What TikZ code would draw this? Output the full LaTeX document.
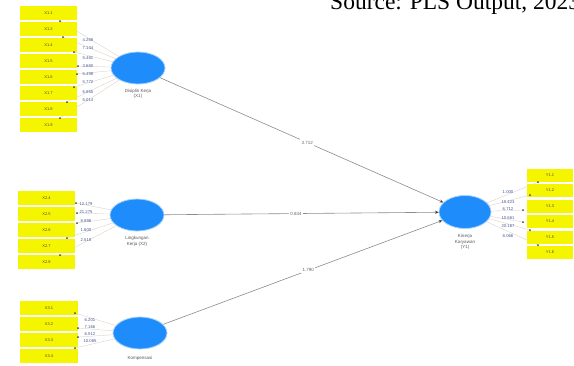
\documentclass[tikz,border=0pt]{standalone}
\usepackage{fontspec}
\setmainfont{Liberation Sans}
\newfontfamily\capfont{Liberation Serif}
\usetikzlibrary{shapes.geometric,arrows.meta}
\definecolor{indyel}{RGB}{245,245,0}
\definecolor{lvblue}{RGB}{30,140,250}
\definecolor{valblue}{RGB}{70,90,150}
\definecolor{faint}{RGB}{215,200,190}
\begin{document}
\begin{tikzpicture}[x=1pt,y=-1pt,
  indbox/.style={rectangle,fill=indyel,minimum height=13.5pt,inner sep=0pt,font=\fontsize{4}{4}\selectfont,text=black!70},
  latent/.style={ellipse,fill=lvblue,draw=lvblue!40,line width=0.8pt,minimum width=54pt,minimum height=32pt,inner sep=0pt},
  lvlabel/.style={font=\fontsize{4.5}{5.5}\selectfont,text=black!65,align=center},
  val/.style={font=\fontsize{4.2}{4.2}\selectfont,text=valblue,inner sep=0.3pt},
  pathval/.style={font=\fontsize{4.5}{4.5}\selectfont,text=black!60,fill=white,inner sep=1.5pt},
  loadline/.style={draw=faint,line width=0.3pt},
  pathline/.style={draw=black!45,line width=0.6pt,-{Stealth[length=3.5pt,width=3pt,black!80]}},
  tipmark/.style={fill=black!75,inner sep=0pt,minimum size=2pt,circle}
]
\useasboundingbox (0,0) rectangle (574,365);
\fill[white] (0,0) rectangle (574,365);
\begin{scope}
\clip (0,0) rectangle (574,365);
\node[anchor=base west,inner sep=0pt,font=\capfont\fontsize{23.5}{24}\selectfont] (cap) at (330,9) {Source: PLS Output, 2023};
\end{scope}

% latent variables
\node[latent] (x1) at (138,68) {};
\node[latent] (x2) at (137,215) {};
\node[latent] (x3) at (140,333) {};
\node[latent,minimum width=52pt,minimum height=33pt] (y) at (465,212) {};
\node[lvlabel,below=1pt] (lx1) at (x1.south) {Disiplin Kerja\\(X1)};
\node[lvlabel,below=1.5pt] (lx2) at (x2.south) {Lingkungan\\Kerja (X2)};
\node[lvlabel,below=3pt] (lx3) at (x3.south) {Kompensasi};
\node[lvlabel,below=2pt] (ly) at (y.south) {Kinerja\\Karyawan\\(Y1)};

% tip coordinates
\coordinate (t11) at (60,21);  \coordinate (t12) at (63,37);
\coordinate (t13) at (74,52);  \coordinate (t14) at (78,66);
\coordinate (t15) at (77,74);  \coordinate (t16) at (74,87);
\coordinate (t17) at (67,102); \coordinate (t18) at (60,118);
\coordinate (t21) at (76,203); \coordinate (t22) at (77,213);
\coordinate (t23) at (77,223); \coordinate (t24) at (67,238);
\coordinate (t25) at (60,255);
\coordinate (t31) at (75,313); \coordinate (t32) at (78,328);
\coordinate (t33) at (78,337); \coordinate (t34) at (75,348);
\coordinate (t41) at (538,182); \coordinate (t42) at (530,195);
\coordinate (t43) at (523,210); \coordinate (t44) at (523,222);
\coordinate (t45) at (530,230); \coordinate (t46) at (538,245);

% loading lines
\foreach \i in {1,...,8} {\draw[loadline] (x1) -- (t1\i);}
\foreach \i in {1,...,5} {\draw[loadline] (x2) -- (t2\i);}
\foreach \i in {1,...,4} {\draw[loadline] (x3) -- (t3\i);}
\foreach \i in {1,...,6} {\draw[loadline] (y) -- (t4\i);}

% indicator boxes
\foreach \n/\yy in {1.1/13,1.2/29,1.4/45,1.5/61,1.6/77,1.7/93,1.8/109,1.9/125}
  {\node[indbox,minimum width=57pt] (bx\n) at (48.5,\yy) {X\n};}
\foreach \n/\yy in {2.4/198,2.5/214,2.6/230,2.7/246,2.8/262}
  {\node[indbox,minimum width=57pt] (bx\n) at (46.5,\yy) {X\n};}
\foreach \n/\yy in {3.1/308,3.2/324,3.3/340,3.4/356}
  {\node[indbox,minimum width=58pt] (bx\n) at (49,\yy) {X\n};}
\foreach \n/\yy in {1.1/175,1.2/190.5,1.3/206,1.4/221.5,1.5/237,1.6/252.5}
  {\node[indbox,minimum width=46pt,minimum height=13pt] (by\n) at (550,\yy) {Y\n};}

% arrow tips on indicators
\foreach \c in {t11,t12,t13,t14,t15,t16,t17,t18,t21,t22,t23,t24,t25,t31,t32,t33,t34,t41,t42,t43,t44,t45,t46}
  {\node[tipmark] at (\c) {};}

% loading values
\foreach \v/\yy in {4.268/40,7.134/48,5.481/58,3.680/66,5.498/74,5.772/82,6.855/92,5.014/100}
  {\node[val] at (88,\yy) {\v};}
\foreach \v/\yy in {12.179/204,21.275/212,8.898/221,1.600/230,2.518/240}
  {\node[val] at (86,\yy) {\v};}
\foreach \v/\yy in {6.201/320,7.166/327,6.512/334,10.085/341}
  {\node[val] at (90,\yy) {\v};}
\foreach \v/\yy in {1.000/192,10.423/202,6.712/209,10.661/218,20.167/226,8.066/236}
  {\node[val] at (508,\yy) {\v};}

% structural paths
\draw[pathline] (x1) -- node[pathval,pos=0.52] (p1) {3.712} (y);
\draw[pathline] (x2) -- node[pathval,pos=0.48] (p2) {0.844} (y);
\draw[pathline] (x3) -- node[pathval,pos=0.52] (p3) {1.790} (y);
\end{tikzpicture}
\end{document}
